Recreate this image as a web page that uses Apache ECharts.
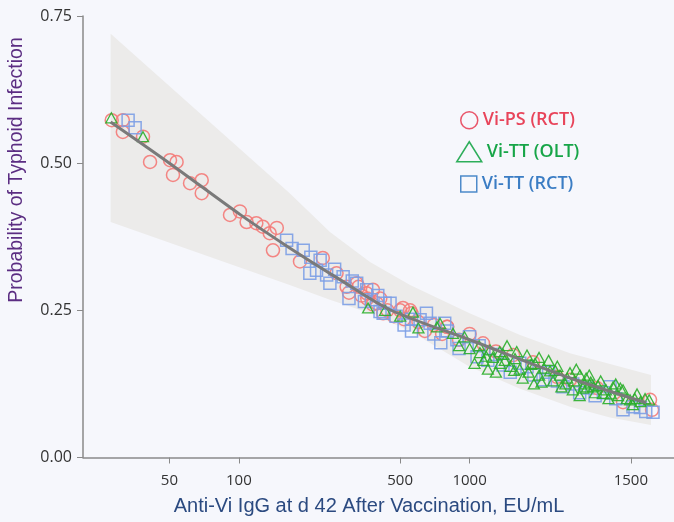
<!DOCTYPE html>
<html>
<head>
<meta charset="utf-8">
<script src="https://cdn.jsdelivr.net/npm/echarts@6/dist/echarts.min.js"></script>
<style>
  html, body { margin: 0; padding: 0; background: #f6f7fc; }
  #chartTyphoid { width: 674px; height: 522px; }
</style>
</head>
<body>
<div id="chartTyphoid"></div>
<script>
  // ticks on the x axis (the last one is printed as 1500 in the original)
  const xTickValues = [50, 100, 500, 1000, 5000];
  const xTickLabels = ['50', '100', '500', '1000', '1500'];

  // fitted curve
  const fitX = [27.8, 50, 101, 166, 272, 452, 1000, 2724, 5824];
  const fitY = [0.57, 0.50, 0.413, 0.356, 0.303, 0.251, 0.20, 0.135, 0.093];

  // confidence band
  const bandX = [27.8, 166, 248, 370, 552, 1000, 1654, 2724, 4061, 6110];
  const bandUpper = [0.72, 0.449, 0.383, 0.332, 0.293, 0.245, 0.208, 0.177, 0.159, 0.14];
  const bandLower = [0.40, 0.293, 0.268, 0.245, 0.215, 0.154, 0.117, 0.086, 0.068, 0.055];

  // Vi-PS (RCT)
  const viPsRct = [
    [28.1, 0.573], [31.4, 0.573], [31.4, 0.553], [38.4, 0.545], [41.2, 0.502], [50.3, 0.505],
    [53.7, 0.502], [51.8, 0.48], [61.4, 0.466], [69, 0.471], [69, 0.449], [91.5, 0.412],
    [101, 0.418], [108, 0.4], [119, 0.398], [127, 0.392], [136, 0.381], [146, 0.39],
    [140.5, 0.352], [184, 0.333], [231, 0.339], [265, 0.313], [293, 0.29], [324, 0.296],
    [358, 0.279], [396, 0.262], [422, 0.245], [300, 0.28], [330, 0.29], [340, 0.275],
    [360, 0.27], [380, 0.26], [410, 0.27], [440, 0.25], [470, 0.24], [500, 0.25],
    [520, 0.235], [560, 0.245], [600, 0.23], [640, 0.215], [700, 0.225], [760, 0.21],
    [800, 0.222], [900, 0.2], [1000, 0.21], [1143, 0.194], [1300, 0.18], [1543, 0.174],
    [1883, 0.162], [2392, 0.137], [2724, 0.132], [3567, 0.118], [4623, 0.094], [6053, 0.098],
    [6177, 0.081], [381, 0.285], [514, 0.254], [552, 0.25], [798, 0.222]
  ];

  // Vi-TT (RCT)
  const viTtRct = [
    [33.1, 0.573], [35.5, 0.56], [161, 0.369], [190, 0.352], [225, 0.335], [217, 0.318],
    [248, 0.296], [283, 0.307], [324, 0.296], [358, 0.285], [422, 0.245], [409, 0.248],
    [452, 0.262], [610, 0.234], [674, 0.228], [881, 0.2], [999, 0.205], [1077, 0.171],
    [1395, 0.157], [1774, 0.154], [2080, 0.132], [2540, 0.12], [3228, 0.118], [4062, 0.12],
    [4623, 0.081], [5106, 0.086], [6238, 0.077], [300, 0.27], [350, 0.265], [480, 0.24],
    [520, 0.225], [560, 0.215], [700, 0.21], [750, 0.195], [800, 0.215], [1200, 0.165],
    [1300, 0.175], [1500, 0.145], [1650, 0.16], [1900, 0.14], [2200, 0.145], [2400, 0.13],
    [2800, 0.125], [3000, 0.11], [3500, 0.105], [3800, 0.11], [4300, 0.1], [5500, 0.085],
    [5800, 0.078], [1100, 0.19], [900, 0.185], [650, 0.245], [400, 0.275], [260, 0.32],
    [205, 0.34], [170, 0.355], [203, 0.313], [240, 0.31], [310, 0.3], [375, 0.268],
    [430, 0.262], [560, 0.235], [780, 0.228]
  ];

  // Vi-TT (OLT)
  const viTtOlt = [
    [28, 0.577], [38.4, 0.545], [363, 0.254], [430, 0.25], [500, 0.24], [568, 0.247],
    [600, 0.22], [722, 0.222], [744, 0.228], [847, 0.211], [900, 0.19], [950, 0.205],
    [1000, 0.185], [1050, 0.16], [1100, 0.19], [1109, 0.178], [1150, 0.165], [1200, 0.15],
    [1226, 0.183], [1260, 0.17], [1300, 0.145], [1350, 0.18], [1355, 0.16], [1400, 0.175],
    [1453, 0.19], [1500, 0.155], [1573, 0.168], [1600, 0.18], [1650, 0.15], [1700, 0.135],
    [1773, 0.174], [1800, 0.145], [1900, 0.125], [1921, 0.16], [2000, 0.14], [2000, 0.17],
    [2100, 0.152], [2200, 0.165], [2231, 0.147], [2300, 0.13], [2400, 0.155], [2465, 0.14],
    [2500, 0.12], [2600, 0.125], [2724, 0.144], [2800, 0.115], [2850, 0.13], [2900, 0.15],
    [3000, 0.105], [3010, 0.14], [3100, 0.118], [3200, 0.135], [3228, 0.12], [3300, 0.14],
    [3350, 0.128], [3496, 0.11], [3600, 0.122], [3700, 0.13], [3787, 0.109], [3900, 0.115],
    [4000, 0.1], [4186, 0.12], [4300, 0.125], [4400, 0.105], [4623, 0.115], [4800, 0.1],
    [4958, 0.098], [5100, 0.09], [5318, 0.108], [5500, 0.095], [5760, 0.1], [6000, 0.098],
    [1180, 0.172], [1420, 0.165], [1560, 0.148], [1850, 0.158], [2050, 0.128], [2350, 0.148],
    [2650, 0.135], [3150, 0.125], [3450, 0.12], [4100, 0.108], [4500, 0.118], [5200, 0.1]
  ];

  const redLine = '#f47a78';
  const blueLine = '#7c9ee6';
  const greenLine = '#2aae2a';

  let myChart = echarts.init(document.getElementById('chartTyphoid'));

  let legendBase = {
    orient: 'vertical',
    selectedMode: false,
    itemTextGap: 13,
    textStyle: { fontFamily: 'Open Sans', fontSize: 18, fontWeight: 600 }
  };

  let option = {
    animation: false,
    backgroundColor: '#f6f7fc',
    grid: { left: 83, right: 0, top: 16, bottom: 64.5 },
    legend: [
      Object.assign({}, legendBase, {
        left: 455, top: 106, itemWidth: 17, itemHeight: 17,
        data: [{ name: 'Vi-PS (RCT)', icon: 'circle',
          itemStyle: { color: 'transparent', borderColor: '#e8445a', borderWidth: 1.5 },
          textStyle: { color: '#e8445a' } }]
      }),
      Object.assign({}, legendBase, {
        left: 451, top: 136, itemWidth: 25, itemHeight: 20, itemTextGap: 9,
        data: [{ name: 'Vi-TT (OLT)', icon: 'triangle',
          itemStyle: { color: 'transparent', borderColor: '#17a548', borderWidth: 1.5 },
          textStyle: { color: '#17a548' } }]
      }),
      Object.assign({}, legendBase, {
        left: 455, top: 170, itemWidth: 16, itemHeight: 16,
        data: [{ name: 'Vi-TT (RCT)', icon: 'rect',
          itemStyle: { color: 'transparent', borderColor: '#3b7dc4', borderWidth: 1.5 },
          textStyle: { color: '#3b7dc4' } }]
      })
    ],
    graphic: [
      {
        type: 'text', x: 17, y: 170, rotation: Math.PI / 2,
        style: {
          text: 'Probability of Typhoid Infection', fill: '#5b2d82',
          font: '19.5px "Liberation Sans", Arial', align: 'center', verticalAlign: 'middle'
        }
      },
      {
        type: 'text', x: 369, y: 506,
        style: {
          text: 'Anti-Vi IgG at d 42 After Vaccination, EU/mL', fill: '#2b4a80',
          font: '20px "Liberation Sans", Arial', align: 'center', verticalAlign: 'middle'
        }
      }
    ],
    xAxis: {
      type: 'log',
      min: 21.1,
      max: 7690,
      axisLine: { lineStyle: { color: '#8a8a8a', width: 1.5 } },
      axisTick: { customValues: xTickValues, length: 6, lineStyle: { color: '#8a8a8a' } },
      axisLabel: {
        customValues: xTickValues,
        margin: 16,
        color: '#333',
        fontFamily: 'Open Sans',
        fontSize: 15,
        formatter: function (v) {
          let i = xTickValues.findIndex(t => Math.abs(t - v) / t < 1e-6);
          return i >= 0 ? xTickLabels[i] : '';
        }
      },
      splitLine: { show: false }
    },
    yAxis: {
      type: 'value',
      min: 0,
      max: 0.75,
      interval: 0.25,
      axisLine: { show: true, lineStyle: { color: '#8a8a8a', width: 1.5 } },
      axisTick: { show: true, length: 6, lineStyle: { color: '#8a8a8a' } },
      axisLabel: {
        margin: 11,
        color: '#333',
        fontFamily: 'Open Sans',
        fontSize: 16,
        formatter: v => v.toFixed(2)
      },
      splitLine: { show: false }
    },
    series: [
      {
        // shaded band
        type: 'custom',
        silent: true,
        data: [[bandX[0], bandUpper[0]]],
        z: 1,
        renderItem: function (params, api) {
          let pts = [];
          for (let i = 0; i < bandX.length; i++) pts.push(api.coord([bandX[i], bandUpper[i]]));
          for (let i = bandX.length - 1; i >= 0; i--) pts.push(api.coord([bandX[i], bandLower[i]]));
          return { type: 'polygon', shape: { points: pts }, style: { fill: '#ecebea' } };
        }
      },
      {
        name: 'Vi-PS (RCT)',
        type: 'scatter',
        symbol: 'circle',
        symbolSize: 13,
        z: 2,
        data: viPsRct,
        itemStyle: { color: 'transparent', borderColor: redLine, borderWidth: 1.5, opacity: 0.9 }
      },
      {
        name: 'Vi-TT (RCT)',
        type: 'scatter',
        symbol: 'rect',
        symbolSize: 12,
        z: 3,
        data: viTtRct,
        itemStyle: { color: 'transparent', borderColor: blueLine, borderWidth: 1.5, opacity: 0.9 }
      },
      {
        name: 'Vi-TT (OLT)',
        type: 'scatter',
        symbol: 'triangle',
        symbolSize: [11, 10],
        z: 4,
        data: viTtOlt,
        itemStyle: { color: 'transparent', borderColor: greenLine, borderWidth: 1.3, opacity: 0.9 }
      },
      {
        name: 'fit',
        type: 'line',
        showSymbol: false,
        silent: true,
        smooth: 0.3,
        z: 5,
        data: fitX.map((x, i) => [x, fitY[i]]),
        lineStyle: { color: '#7a7a7a', width: 3 }
      }
    ]
  };

  myChart.setOption(option);
</script>
</body>
</html>
